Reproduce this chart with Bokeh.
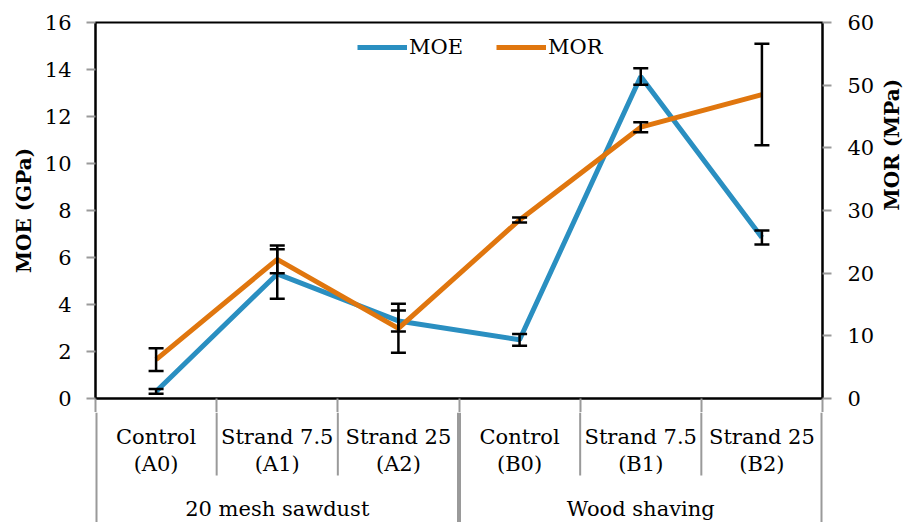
import math
from bokeh.plotting import figure
from bokeh.models import (Range1d, LinearAxis, FixedTicker, ColumnDataSource,
                          Whisker, TeeHead, Legend, LegendItem)
from bokeh.layouts import column
from bokeh.embed import file_html
from bokeh.resources import INLINE
from bokeh.core.properties import value

# ---- data ----
categories = ["Control\n(A0)", "Strand 7.5\n(A1)", "Strand 25\n(A2)",
              "Control\n(B0)", "Strand 7.5\n(B1)", "Strand 25\n(B2)"]
groups = ["20 mesh sawdust", "Wood shaving"]
group_sizes = [3, 3]
moe = [0.3, 5.3, 3.3, 2.5, 13.7, 6.85]
moe_err = [0.1, 1.05, 0.45, 0.25, 0.35, 0.3]
mor = [6.2, 22.2, 11.2, 28.5, 43.3, 48.5]
mor_err = [1.8, 2.2, 3.9, 0.4, 0.8, 8.1]
moe_ticks = [0, 2, 4, 6, 8, 10, 12, 14, 16]
mor_ticks = [0, 10, 20, 30, 40, 50, 60]

FONT = "DejaVu Serif"
BLUE = "#2A8FC1"
ORANGE = "#E0760E"
GRAY = "#9A9A9A"

# layout (pixels)
FRAME_W = 727
PLOT_H = 376
GAP = 14              # bottom border of the chart, crossed by the separators
PANEL_H = 110         # category panel
INNER_SEP = 63        # inner separators' length inside the panel

n = len(categories)
xc = [i + 0.5 for i in range(n)]
bounds = list(range(n + 1))
group_bounds = [0]
for s in group_sizes:
    group_bounds.append(group_bounds[-1] + s)
inner = [b for b in bounds if b not in group_bounds]

p = figure(frame_width=FRAME_W, frame_height=PLOT_H, output_backend="svg",
           toolbar_location=None, x_range=Range1d(0, n),
           y_range=Range1d(moe_ticks[0], moe_ticks[-1]),
           min_border_left=95, min_border_right=85, min_border_top=22,
           min_border_bottom=GAP)
p.extra_y_ranges = {"mor": Range1d(mor_ticks[0], mor_ticks[-1])}
p.grid.visible = False
p.outline_line_color = "black"
p.outline_line_width = 2
p.background_fill_color = "white"
p.border_fill_color = "white"

def style_axis(ax, label):
    ax.axis_label = label
    ax.axis_label_text_font = FONT
    ax.axis_label_text_font_style = "bold"
    ax.axis_label_text_font_size = "20px"
    ax.axis_label_text_color = "black"
    ax.major_label_text_font = FONT
    ax.major_label_text_font_size = "21px"
    ax.major_label_text_color = "black"
    ax.axis_line_color = "black"
    ax.axis_line_width = 2
    ax.major_tick_line_color = GRAY
    ax.major_tick_line_width = 2
    ax.major_tick_out = 9
    ax.major_tick_in = 0
    ax.minor_tick_line_color = None

yl = p.yaxis[0]
yl.ticker = FixedTicker(ticks=moe_ticks)
style_axis(yl, "MOE (GPa)")
yl.major_label_standoff = 15
yl.axis_label_standoff = 6

yr = LinearAxis(y_range_name="mor", ticker=FixedTicker(ticks=mor_ticks))
style_axis(yr, "MOR (MPa)")
yr.major_label_standoff = 16
yr.axis_label_standoff = 15
yr.axis_label_orientation = math.pi / 2
p.add_layout(yr, "right")

# bottom axis: black base line, separator starts as ticks
xa = p.xaxis[0]
xa.ticker = FixedTicker(ticks=bounds)
xa.major_label_overrides = {b: "" for b in bounds}
xa.major_label_standoff = 0
xa.axis_line_color = "black"
xa.axis_line_width = 2
xa.major_tick_line_color = GRAY
xa.major_tick_line_width = 2
xa.major_tick_out = GAP
xa.major_tick_in = 0
xa.minor_tick_line_color = None

l1 = p.line(xc, moe, line_color=BLUE, line_width=5)
l2 = p.line(xc, mor, line_color=ORANGE, line_width=5, y_range_name="mor")

src_moe = ColumnDataSource(dict(x=xc, lo=[v - e for v, e in zip(moe, moe_err)],
                                hi=[v + e for v, e in zip(moe, moe_err)]))
src_mor = ColumnDataSource(dict(x=xc, lo=[v - e for v, e in zip(mor, mor_err)],
                                hi=[v + e for v, e in zip(mor, mor_err)]))
for src, rng in ((src_moe, "default"), (src_mor, "mor")):
    w = Whisker(base="x", lower="lo", upper="hi", source=src,
                line_color="black", line_width=2.5, level="overlay",
                upper_head=TeeHead(size=15, line_color="black", line_width=2.5),
                lower_head=TeeHead(size=15, line_color="black", line_width=2.5))
    if rng != "default":
        w.y_range_name = rng
    p.add_layout(w)

legend = Legend(items=[LegendItem(label="MOE", renderers=[l1]),
                       LegendItem(label="MOR", renderers=[l2])],
                orientation="horizontal", location=(262, PLOT_H - 37),
                padding=0, margin=0, spacing=33, glyph_width=50,
                label_standoff=2, border_line_color=None,
                background_fill_alpha=0,
                label_text_font=FONT, label_text_font_size="21px",
                label_text_color="black")
p.add_layout(legend, "center")

# ---- category panel ----
q = figure(frame_width=FRAME_W, frame_height=PANEL_H, output_backend="svg",
           toolbar_location=None, x_range=p.x_range, y_range=Range1d(PANEL_H, 0),
           x_axis_location=None, y_axis_location=None,
           min_border_left=95, min_border_right=85, min_border_top=0,
           min_border_bottom=0)
q.grid.visible = False
q.outline_line_color = None
q.background_fill_color = "white"
q.border_fill_color = "white"

q.segment(x0=inner, y0=[0] * len(inner), x1=inner, y1=[INNER_SEP] * len(inner),
          line_color=GRAY, line_width=2)
q.segment(x0=group_bounds, y0=[0] * len(group_bounds), x1=group_bounds,
          y1=[PANEL_H] * len(group_bounds), line_color=GRAY, line_width=4)

line1 = [c.split("\n")[0] for c in categories]
line2 = [c.split("\n")[1] for c in categories]
q.text(x=xc, y=[24] * n, text=line1, text_align="center",
       text_baseline="middle", text_font=value(FONT), text_font_size="21px",
       text_color="black")
q.text(x=xc, y=[51] * n, text=line2, text_align="center",
       text_baseline="middle", text_font=value(FONT), text_font_size="21px",
       text_color="black")
gc = [(group_bounds[i] + group_bounds[i + 1]) / 2 for i in range(len(groups))]
q.text(x=gc, y=[96] * len(groups), text=groups, text_align="center",
       text_baseline="middle", text_font=value(FONT), text_font_size="21px",
       text_color="black")

layout = column(p, q, spacing=0)
open("out.html", "w").write(file_html(layout, INLINE))
